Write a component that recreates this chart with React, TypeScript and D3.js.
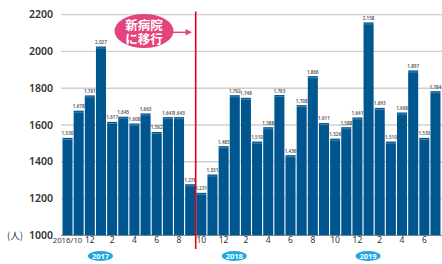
import React from 'react';
import * as d3 from 'd3';

// monthly patients, 2016/10 .. 2019/7
const months = [
  '2016/10', '11', '12',
  '1', '2', '3', '4', '5', '6', '7', '8', '9', '10', '11', '12',
  '1', '2', '3', '4', '5', '6', '7', '8', '9', '10', '11', '12',
  '1', '2', '3', '4', '5', '6', '7',
];
const patients = [
  1530, 1678, 1761,
  2027, 1617, 1645, 1608, 1663, 1562, 1643, 1643, 1278, 1231, 1331, 1485,
  1762, 1748, 1510, 1588, 1763, 1436, 1708, 1866, 1611, 1526, 1588, 1641,
  2158, 1693, 1510, 1668, 1897, 1530, 1784,
];
const yTicks = [1000, 1200, 1400, 1600, 1800, 2000, 2200];
const years = [
  {label: '2017', at: 3},
  {label: '2018', at: 15},
  {label: '2019', at: 27},
];
const moveIndex = 12; // new hospital from 2017/10

const W = 442;
const H = 264;
const BLUE = '#00568f';
const PINK = '#e5437c';

export default function App() {
  const x = d3
    .scaleBand<number>()
    .domain(d3.range(patients.length))
    .range([62.5, 440.5])
    .paddingInner(0.1)
    .paddingOuter(0);
  const y = d3.scaleLinear().domain([1000, 2200]).range([235.3, 14.7]);
  const fmt = d3.format(',');
  const cx = (i: number) => (x(i) as number) + x.bandwidth() / 2;
  const lineX = (x(moveIndex) as number) - 0.6;

  return (
    <div style={{position: 'fixed', left: 0, top: 0, background: '#fff'}}>
      <svg width={W} height={H} style={{display: 'block', fontFamily: '"Noto Sans", sans-serif'}}>
        {/* grid */}
        {yTicks.map(t => (
          <line key={t} x1={61} x2={W} y1={y(t)} y2={y(t)} stroke={t === 1000 ? '#999' : '#d0d0d0'} strokeWidth={1.3} />
        ))}
        {yTicks.map(t => (
          <text key={'l' + t} x={53} y={y(t)} dy="0.35em" textAnchor="end" fontSize={10.5} fontWeight={600} fill="#333">
            {t}
          </text>
        ))}
        <text x={15} y={y(1000)} dy="0.35em" textAnchor="middle" fontSize={9.5} fill="#333" fontFamily='"Noto Sans CJK JP", sans-serif'>
          (人)
        </text>

        {/* bars */}
        {patients.map((v, i) => (
          <g key={i}>
            <rect x={x(i)} y={y(v)} width={x.bandwidth()} height={y(1000) - y(v)} fill={BLUE} />
            <line x1={x(i)} x2={(x(i) as number) + x.bandwidth()} y1={y(v) + 1.6} y2={y(v) + 1.6} stroke="#fff" strokeOpacity={0.45} strokeWidth={0.6} />
            <text x={cx(i)} y={y(v) - 2.5} textAnchor="middle" fontSize={4.6} fontWeight={600} fill="#555">
              {fmt(v)}
            </text>
          </g>
        ))}

        {/* x labels */}
        {months.map((m, i) =>
          i % 2 === 0 ? (
            <text key={'m' + i} x={cx(i)} y={243} textAnchor="middle" fontSize={i === 0 ? 7.8 : 8.5} fill="#333">
              {m}
            </text>
          ) : null
        )}
        {years.map(yr => (
          <g key={yr.label} transform={`translate(${cx(yr.at) - 0.5},256)`}>
            <ellipse rx={12.5} ry={5} fill="#1fa8e1" />
            <text y={0} dy="0.36em" textAnchor="middle" fontSize={7.5} fontWeight={700} fill="#fff">
              {yr.label}
            </text>
          </g>
        ))}

        {/* move marker */}
        <line x1={lineX} x2={lineX} y1={11.5} y2={249} stroke="#e60012" strokeWidth={1.6} />
        <line x1={168} x2={188} y1={32.3} y2={32.3} stroke={PINK} strokeWidth={1.4} />
        <path d="M192,32.3 L185.5,29 L185.5,35.6 Z" fill={PINK} />
        <ellipse cx={144} cy={31} rx={29.5} ry={17} fill={PINK} />
        <g fill="#fff" fontSize={12.5} fontWeight={700} textAnchor="middle" fontFamily='"Noto Sans CJK JP", sans-serif'>
          <text x={144} y={24.8} dy="0.38em">新病院</text>
          <text x={144} y={38.8} dy="0.38em">に移行</text>
        </g>
      </svg>
    </div>
  );
}
